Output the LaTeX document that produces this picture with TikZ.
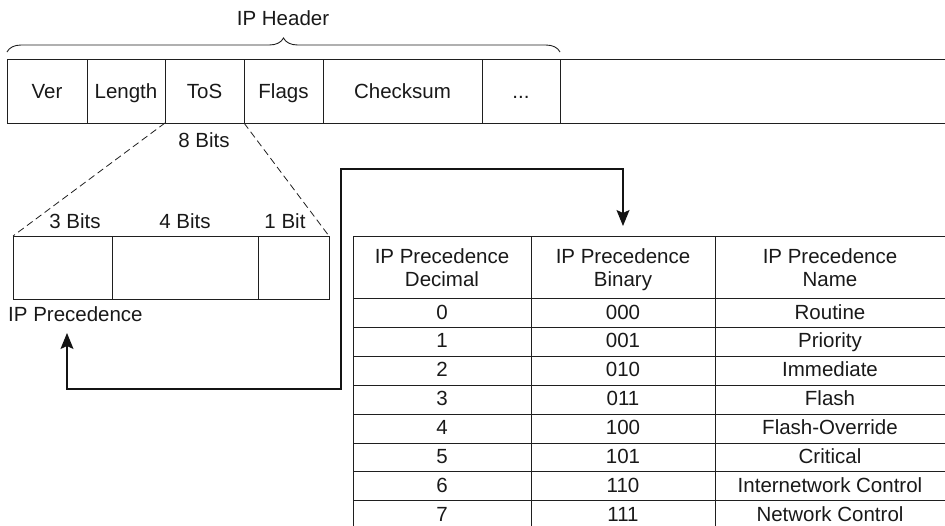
\documentclass[tikz,border=0pt]{standalone}
\usepackage{fontspec}
\setmainfont{Liberation Sans}
\usetikzlibrary{decorations.pathreplacing,arrows.meta}
\begin{document}
\begin{tikzpicture}[x=1pt,y=-1pt,
  every node/.style={font=\fontsize{20.5}{23.5}\selectfont, text=black!90},
  box/.style={draw=black!88, line width=0.9pt, inner sep=0pt, outer sep=0pt},
  rule/.style={draw=black!88, line width=0.9pt},
  dashline/.style={draw=black!88, line width=0.8pt, dash pattern=on 7pt off 4pt},
  conn/.style={draw=black!92, line width=1.3pt, {Stealth[length=16pt,width=13pt,inset=3pt]}-{Stealth[length=16pt,width=13pt,inset=3pt]}},
  txt/.style={inner sep=0pt, align=center, anchor=base}
]
\useasboundingbox (0,0) rectangle (945,525);

% IP header
\node[txt] (iph) at (283,25) {IP Header};
\draw[rule, decorate, decoration={brace, amplitude=14pt}] (7,52) -- (560,52);

\node[box, minimum width=80pt, minimum height=64pt] (ver) at (47,91) {};
\node[box, minimum width=78pt, minimum height=64pt] (len) at (126,91) {};
\node[box, minimum width=79pt, minimum height=64pt] (tos) at (204.5,91) {};
\node[box, minimum width=79pt, minimum height=64pt] (flags) at (283.5,91) {};
\node[box, minimum width=159pt, minimum height=64pt] (chk) at (402.5,91) {};
\node[box, minimum width=78pt, minimum height=64pt] (dots) at (521,91) {};
\node[txt] (tver) at (47,98) {Ver};
\node[txt] (tlen) at (126,98) {Length};
\node[txt] (ttos) at (204.5,98) {ToS};
\node[txt] (tflags) at (283.5,98) {Flags};
\node[txt] (tchk) at (402.5,98) {Checksum};
\node[txt] (tdots) at (521,98) {...};
\coordinate (hne) at (946,59);
\coordinate (hse) at (946,123);
\draw[rule] (dots.north east) -- (hne);
\draw[rule] (dots.south east) -- (hse);

\node[txt] (eight) at (204,147) {8 Bits};

% ToS breakdown
\node[box, minimum width=99pt, minimum height=63pt] (pa) at (62.5,267.5) {};
\node[box, minimum width=146pt, minimum height=63pt] (pb) at (185,267.5) {};
\node[box, minimum width=71pt, minimum height=63pt] (pc) at (293.5,267.5) {};
\node[txt] (b3) at (75,228) {3 Bits};
\node[txt] (b4) at (185,228) {4 Bits};
\node[txt] (b1) at (285,228) {1 Bit};
\draw[dashline] (tos.south west) -- (pa.north west);
\draw[dashline] (tos.south east) -- (pc.north east);
\node[txt, anchor=base west] (iplab) at (8,321) {IP Precedence};

% table
\foreach \yy in {236,298,327,356,385,414,443,471,500}
  \draw[rule] (353,\yy) -- (946,\yy);
\foreach \xx in {353,531,715}
  \draw[rule] (\xx,236) -- (\xx,527);
\node[txt] (h1) at (442,286.5) {IP Precedence\\Decimal};
\node[txt] (h2) at (623,286.5) {IP Precedence\\Binary};
\node[txt] (h3) at (830,286.5) {IP Precedence\\Name};
\foreach \i/\b/\n in {0/000/Routine,1/001/Priority,2/010/Immediate,3/011/Flash,4/100/Flash-Override,5/101/Critical,6/110/Internetwork Control,7/111/Network Control}{
  \pgfmathsetmacro{\yc}{298+28.9*\i+21}
  \node[txt] (d\i) at (442,\yc) {\i};
  \node[txt] (bn\i) at (623,\yc) {\b};
  \node[txt] (nm\i) at (830,\yc) {\n};
}

% connector
\coordinate (ptip) at (67,333);
\coordinate (ttip) at (623,226);
\draw[conn] (ptip) -- (67,389) -- (341,389) -- (341,169) -- (623,169) -- (ttip);
\end{tikzpicture}
\end{document}
